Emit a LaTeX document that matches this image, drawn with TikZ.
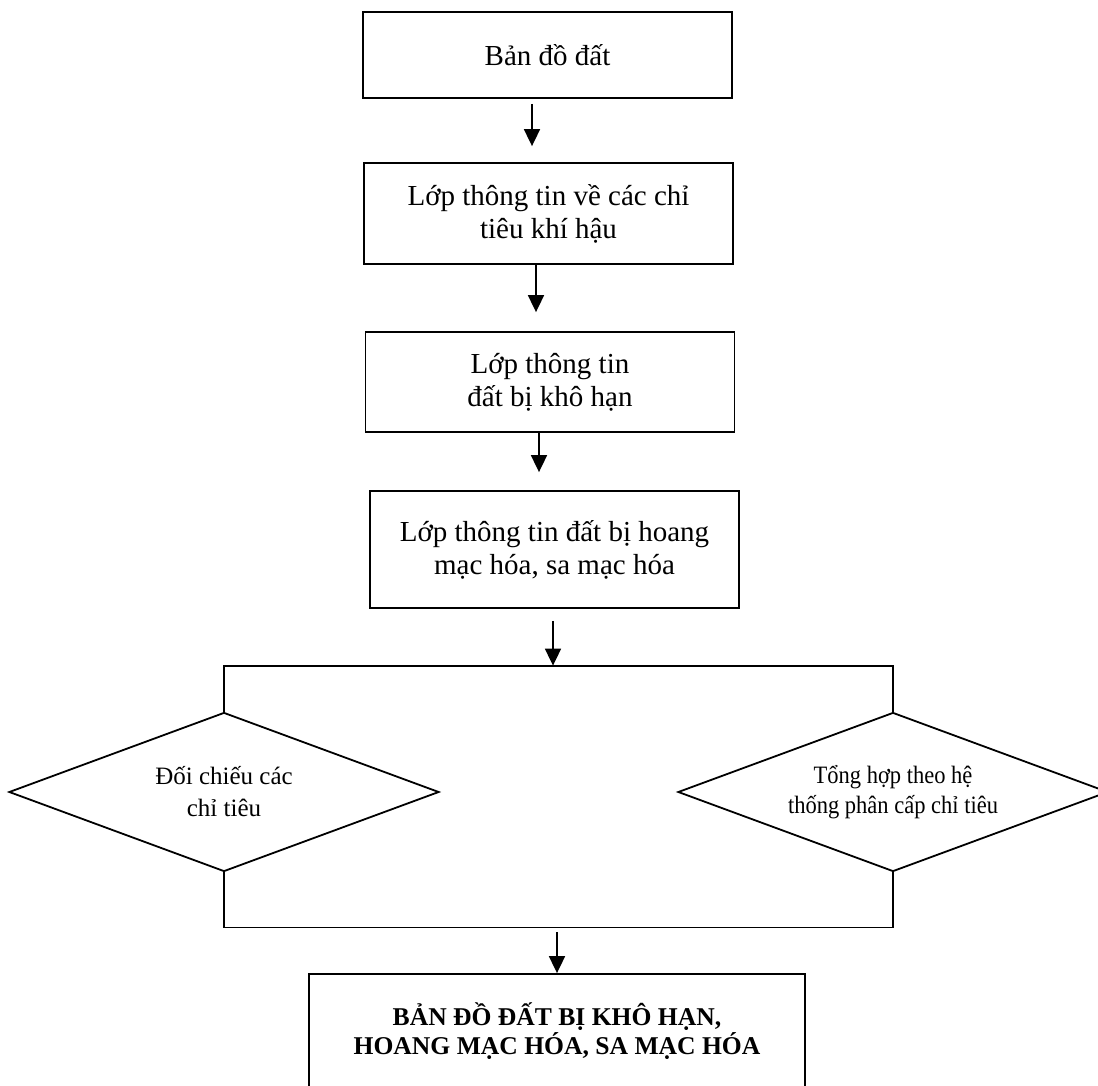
\documentclass[tikz,border=0pt]{standalone}
\usepackage{fontspec}
\setmainfont{Liberation Serif}
\newfontfamily\hepfont{Liberation Serif}[FakeStretch=0.9]
\usepackage{tikz}
\usetikzlibrary{arrows.meta, shapes.geometric, positioning}

\tikzset{
    hop/.style={draw, align=center, inner sep=0pt, minimum width=184.5pt,
        font={\fontsize{14.5pt}{16.5pt}\selectfont}},
    thoi/.style={draw, diamond, aspect=2.7, align=center, inner sep=0pt,
        minimum width=215pt, minimum height=79.5pt},
}

\begin{document}
\begin{tikzpicture}[x=0.5pt, y=-0.5pt, line width=0.9pt,
    >={Triangle[width=8pt,length=8.5pt]}]
    % 1. Khung hình
    \useasboundingbox (0,0) rectangle (1098,1086);

    % 2. Các lớp thông tin
    \node[hop, minimum height=43pt] (bando) at (547.5,55) {Bản đồ đất};
    \node[hop, minimum height=50.5pt] (khihau) at (548.5,213.5)
        {Lớp thông tin về các chỉ\\ tiêu khí hậu};
    \node[hop, minimum height=50pt] (khohan) at (550,382)
        {Lớp thông tin\\ đất bị khô hạn};
    \node[hop, minimum height=58.5pt] (hoangmac) at (554.5,549.5)
        {Lớp thông tin đất bị hoang\\ mạc hóa, sa mạc hóa};

    % 3. Hai hình thoi
    \node[thoi, font={\fontsize{12.5pt}{16pt}\selectfont}] (doichieu) at (224,792)
        {Đối chiếu các\\ chỉ tiêu};
    \node[thoi, font={\hepfont\fontsize{12.5pt}{15pt}\selectfont}] (tonghop) at (893,792)
        {Tổng hợp theo hệ\\ thống phân cấp chỉ tiêu};

    % 4. Bản đồ kết quả
    \node[draw, align=center, inner sep=0pt, minimum width=248pt, minimum height=57pt,
        font={\bfseries\fontsize{12.8pt}{13pt}\selectfont}] (ketqua) at (557,1031)
        {BẢN ĐỒ ĐẤT BỊ KHÔ HẠN,\\ HOANG MẠC HÓA, SA MẠC HÓA};

    % 5. Mũi tên
    \draw[->, shorten <=2.5pt, shorten >=8pt] ([xshift=-7.75pt]bando.south)
        -- ([xshift=-7.75pt]bando.south |- khihau.north);
    \draw[->, shorten >=9.5pt] ([xshift=-6.25pt]khihau.south)
        -- ([xshift=-6.25pt]khihau.south |- khohan.north);
    \draw[->, shorten >=9pt] ([xshift=-5.5pt]khohan.south)
        -- ([xshift=-5.5pt]khohan.south |- hoangmac.north);

    % 6. Đường rẽ nhánh
    \draw (doichieu.north) -- ++(0,-46) coordinate (nhanh) -| (tonghop.north);
    \draw (doichieu.south) -- ++(0,55) coordinate (gop) -| (tonghop.south);
    \draw[->, shorten <=6pt] ([xshift=-0.75pt]hoangmac.south)
        -- ([xshift=-0.75pt]hoangmac.south |- nhanh);
    \draw[->, shorten <=2.5pt] (ketqua.north |- gop) -- (ketqua.north);
\end{tikzpicture}
\end{document}
